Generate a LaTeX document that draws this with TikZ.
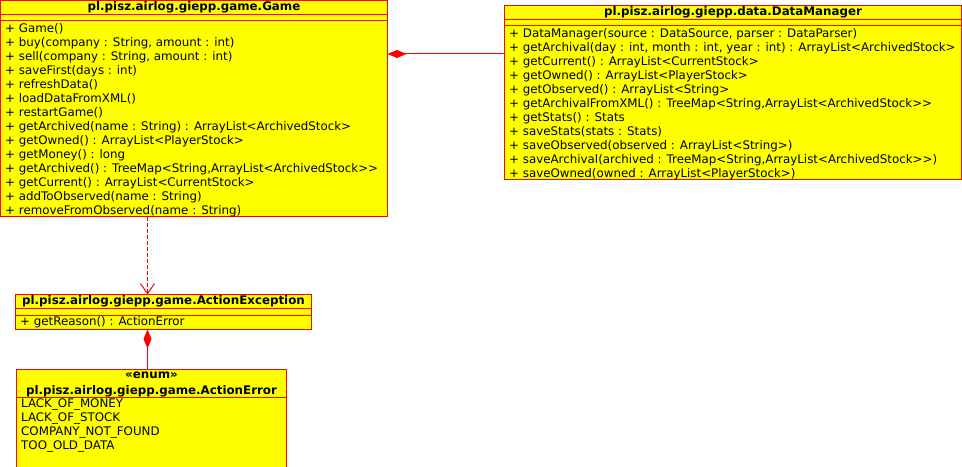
\documentclass[tikz,border=0pt]{standalone}
\usepackage{fontspec}
\setmainfont{DejaVu Sans}[Ligatures=TeXOff]
\usetikzlibrary{arrows.meta,calc}
\definecolor{umlfill}{RGB}{255,255,0}
\definecolor{umlline}{RGB}{255,0,0}

\begin{document}
\begin{tikzpicture}[x=1bp,y=-1bp,
  classbox/.style={draw=umlline, fill=umlfill, line width=1bp, rectangle,
    inner sep=0pt, outer sep=0pt, anchor=north west},
  member/.style={anchor=base west, inner sep=0pt,
    font=\fontsize{11.85bp}{14bp}\selectfont},
  classname/.style={anchor=base, inner sep=0pt,
    font=\fontsize{11.85bp}{14bp}\selectfont\bfseries},
  compartment/.style={draw=umlline, line width=1bp},
  composition/.style={draw=umlline, line width=1bp,
    -{Diamond[length=19bp,width=8bp]}},
  dependency/.style={draw=umlline, line width=1bp, dash pattern=on 4bp off 2bp,
    -{Straight Barb[length=10bp,width=14bp]}},
]
\path[use as bounding box] (0,0) rectangle (962,467);
\clip (0,0) rectangle (962,467);

% ---------- class Game ----------
\node[classbox, minimum width=387bp, minimum height=216bp] (game) at (0.5,0.5) {};
\draw[compartment] ([yshift=-14bp]game.north west) -- ([yshift=-14bp]game.north east);
\draw[compartment] ([yshift=-20.5bp]game.north west) -- ([yshift=-20.5bp]game.north east);
\node[classname] (game-title) at ($(game.north)+(0,10.3)$) {pl.pisz.airlog.giepp.game.Game};
\foreach \txt [count=\i from 0] in {
  {+ Game()},
  {+ buy(company : String, amount : int)},
  {+ sell(company : String, amount : int)},
  {+ saveFirst(days : int)},
  {+ refreshData()},
  {+ loadDataFromXML()},
  {+ restartGame()},
  {+ getArchived(name : String) : ArrayList<ArchivedStock>},
  {+ getOwned() : ArrayList<PlayerStock>},
  {+ getMoney() : long},
  {+ getArchived() : TreeMap<String,ArrayList<ArchivedStock>>},
  {+ getCurrent() : ArrayList<CurrentStock>},
  {+ addToObserved(name : String)},
  {+ removeFromObserved(name : String)}}
  {\node[member] (game-m\i) at ($(game.north west)+(4.5,31.6+14*\i)$) {\txt};}

% ---------- class DataManager ----------
\node[classbox, minimum width=457bp, minimum height=174bp] (dm) at (504.5,6) {};
\draw[compartment] ([yshift=-13.5bp]dm.north west) -- ([yshift=-13.5bp]dm.north east);
\draw[compartment] ([yshift=-20bp]dm.north west) -- ([yshift=-20bp]dm.north east);
\node[classname] (dm-title) at ($(dm.north)+(0,10)$) {pl.pisz.airlog.giepp.data.DataManager};
\foreach \txt [count=\i from 0] in {
  {+ DataManager(source : DataSource, parser : DataParser)},
  {+ getArchival(day : int, month : int, year : int) : ArrayList<ArchivedStock>},
  {+ getCurrent() : ArrayList<CurrentStock>},
  {+ getOwned() : ArrayList<PlayerStock>},
  {+ getObserved() : ArrayList<String>},
  {+ getArchivalFromXML() : TreeMap<String,ArrayList<ArchivedStock>>},
  {+ getStats() : Stats},
  {+ saveStats(stats : Stats)},
  {+ saveObserved(observed : ArrayList<String>)},
  {+ saveArchival(archived : TreeMap<String,ArrayList<ArchivedStock>>)},
  {+ saveOwned(owned : ArrayList<PlayerStock>)}}
  {\node[member] (dm-m\i) at ($(dm.north west)+(4.5,31.3+14*\i)$) {\txt};}

% ---------- class ActionException ----------
\node[classbox, minimum width=296bp, minimum height=35bp] (ae) at (15.5,294.5) {};
\draw[compartment] ([yshift=-14bp]ae.north west) -- ([yshift=-14bp]ae.north east);
\draw[compartment] ([yshift=-21bp]ae.north west) -- ([yshift=-21bp]ae.north east);
\node[classname] (ae-title) at ($(ae.north)+(0,10.2)$) {pl.pisz.airlog.giepp.game.ActionException};
\node[member] (ae-m0) at ($(ae.north west)+(4.5,31.5)$) {+ getReason() : ActionError};

% ---------- enum ActionError ----------
\node[classbox, minimum width=270bp, minimum height=112bp] (aerr) at (16.5,369.5) {};
\draw[compartment] ([yshift=-28bp]aerr.north west) -- ([yshift=-28bp]aerr.north east);
\node[classname] (aerr-stereo) at ($(aerr.north)+(0,9.5)$) {«enum»};
\node[classname] (aerr-title) at ($(aerr.north)+(0,24.8)$) {pl.pisz.airlog.giepp.game.ActionError};
\foreach \txt [count=\i from 0] in {LACK\_OF\_MONEY, LACK\_OF\_STOCK,
  COMPANY\_NOT\_FOUND, TOO\_OLD\_DATA}
  {\node[member] (aerr-l\i) at ($(aerr.north west)+(4.5,38.2+14*\i)$) {\txt};}

% ---------- relations ----------
\coordinate (dm-port) at ($(dm.north west)+(0,48)$);
\draw[composition] (dm-port) -- (dm-port -| game.east);

\coordinate (game-port) at ($(game.south west)+(147,0)$);
\draw[dependency] (game-port) -- (game-port |- ae.north);

\coordinate (ae-port) at (game-port |- ae.south);
\draw[composition] (ae-port |- aerr.north) -- (ae-port);
\end{tikzpicture}
\end{document}
